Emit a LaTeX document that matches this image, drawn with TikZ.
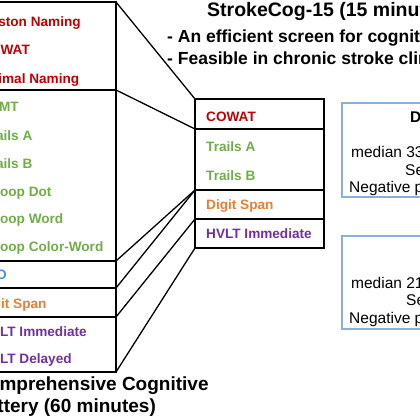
\documentclass[tikz,border=0pt]{standalone}
\usepackage{fontspec}
\setmainfont{Liberation Sans}
\usetikzlibrary{positioning}
\definecolor{cogRed}{HTML}{C00000}
\definecolor{cogGreen}{HTML}{70AD47}
\definecolor{cogBlue}{HTML}{4A8FDB}
\definecolor{cogOrange}{HTML}{ED7D31}
\definecolor{cogPurple}{HTML}{7030A0}
\definecolor{panelBlue}{HTML}{8AB0DA}
\tikzset{
  grp/.style={draw, line width=1.3pt, inner sep=0pt, outer sep=0pt},
  panel/.style={draw=panelBlue, line width=1.2pt, inner sep=0pt, outer sep=0pt, minimum width=218pt},
  testlabel/.style={anchor=base west, inner sep=0pt, font=\fontsize{13.6}{16}\selectfont\bfseries},
  bigtitle/.style={anchor=base west, inner sep=0pt, font=\fontsize{19}{22}\selectfont\bfseries},
  subtitle/.style={anchor=base west, inner sep=0pt, font=\fontsize{17.5}{21}\selectfont\bfseries},
  statline/.style={anchor=base west, inner sep=0pt, font=\fontsize{15.5}{18}\selectfont}
}
\begin{document}
\begin{tikzpicture}[x=1pt, y=-1pt]
  \useasboundingbox (0,0) rectangle (420,420);
  \clip (0,0) rectangle (420,420);
  \node[grp, minimum width=144pt, minimum height=88pt] (langL) at (44,46) {};
  \node[grp, minimum width=144pt, minimum height=171pt] (execL) at (44,175.5) {};
  \node[grp, minimum width=144pt, minimum height=27pt] (visL) at (44,274.5) {};
  \node[grp, minimum width=144pt, minimum height=29pt] (attL) at (44,302.5) {};
  \node[grp, minimum width=144pt, minimum height=55pt] (memL) at (44,344.5) {};
  \node[grp, minimum width=129pt, minimum height=30pt] (langS) at (259.5,114) {};
  \node[grp, minimum width=129pt, minimum height=61pt] (execS) at (259.5,159.5) {};
  \node[grp, minimum width=129pt, minimum height=29pt] (attS) at (259.5,204.5) {};
  \node[grp, minimum width=129pt, minimum height=29pt] (memS) at (259.5,233.5) {};
  \draw[line width=1.3pt] (langL.north east) -- (langS.north west);
  \draw[line width=1.3pt] (langL.south east) -- (langS.south west);
  \draw[line width=1.3pt] (execL.south east) -- (execS.south west);
  \draw[line width=1.3pt] (visL.south east) -- (execS.south west);
  \draw[line width=1.3pt] (attL.south east) -- (attS.south west);
  \draw[line width=1.3pt] (memL.south east) -- (memS.south west);

  \node[testlabel, cogRed] (bntL) at (-20,27) {Boston Naming};
  \node[testlabel, cogRed] (cowatL) at (-20,55) {COWAT};
  \node[testlabel, cogRed] (animalL) at (-20,83) {Animal Naming};
  \node[testlabel, cogGreen] (sdmtL) at (-20,111) {SDMT};
  \node[testlabel, cogGreen] (trailsAL) at (-17,140) {Trails A};
  \node[testlabel, cogGreen] (trailsBL) at (-17,168) {Trails B};
  \node[testlabel, cogGreen] (stroopDL) at (-19,196) {Stroop Dot};
  \node[testlabel, cogGreen] (stroopWL) at (-19,223) {Stroop Word};
  \node[testlabel, cogGreen] (stroopCL) at (-19,251) {Stroop Color-Word};
  \node[testlabel, cogBlue] (jloL) at (-20,279) {JLO};
  \node[testlabel, cogOrange] (digitL) at (-21,308) {Digit Span};
  \node[testlabel, cogPurple] (hvltIL) at (-19,336) {HVLT Immediate};
  \node[testlabel, cogPurple] (hvltDL) at (-19,363) {HVLT Delayed};

  \node[testlabel, cogRed] (cowatS) at (206,121) {COWAT};
  \node[testlabel, cogGreen] (trailsAS) at (206,151) {Trails A};
  \node[testlabel, cogGreen] (trailsBS) at (206,180) {Trails B};
  \node[testlabel, cogOrange] (digitS) at (206,209) {Digit Span};
  \node[testlabel, cogPurple] (hvltIS) at (206,238) {HVLT Immediate};

  \node[bigtitle, font=\fontsize{19.5}{22}\selectfont\bfseries] (shortTitle) at (207,17) {StrokeCog-15 (15 minutes)};
  \node[subtitle] (shortNote1) at (167,43) {- An efficient screen for cognitive impairment};
  \node[subtitle] (shortNote2) at (167,64) {- Feasible in chronic stroke clinics};
  \node[bigtitle] (fullTitle1) at (-26,390) {Comprehensive Cognitive};
  \node[bigtitle] (fullTitle2) at (-27,412) {Battery (60 minutes)};

  \node[panel, minimum height=94pt] (derivBox) at (451,150) {};
  \node[statline, font=\fontsize{15.5}{18}\selectfont\bfseries] (derivHead) at (410,122) {Derivation};
  \node[statline] (derivMed) at (351,157) {median 33 months};
  \node[statline] (derivSens) at (405,175) {Sensitivity};
  \node[statline] (derivNpv) at (349,192) {Negative predictive value};
  \node[panel, minimum height=93pt] (validBox) at (451,282.5) {};
  \node[statline] (validMed) at (351,288) {median 21 months};
  \node[statline] (validSens) at (406,305) {Sensitivity};
  \node[statline] (validNpv) at (349,323) {Negative predictive value};
\end{tikzpicture}
\end{document}
